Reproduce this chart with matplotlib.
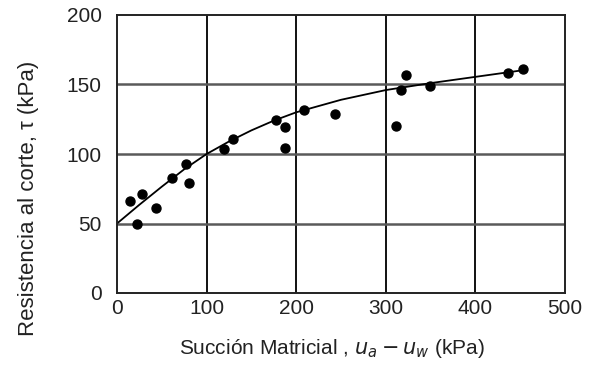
import numpy as np
import matplotlib.pyplot as plt

plt.rcParams['font.family'] = ['Liberation Sans', 'DejaVu Sans']

# measured points: matric suction (kPa) vs shear strength (kPa)
suction = [14.5, 22, 28, 44, 61, 77, 80, 119, 130, 178, 188, 187, 209, 243,
           311, 317, 322.5, 349, 436, 453]
shear = [66.5, 49.5, 71, 61, 83, 93, 79, 103.5, 110.5, 124.5, 119.5, 104.5,
         131.5, 129, 120, 146, 157, 149, 158, 161.5]

# fitted curve
curve_x = [0, 25, 50, 75, 100, 125, 150, 175, 200, 250, 300, 350, 400, 450]
curve_y = [50, 63.5, 76.5, 89, 100, 109, 117, 124, 130, 139, 146, 151, 155.5, 160]

fig = plt.figure(figsize=(5.9, 3.66), dpi=100)
ax = fig.add_axes([117/590, 1 - 293/366, 448/590, 278/366])

ax.set_xlim(0, 500)
ax.set_ylim(0, 200)

for xv in [100, 200, 300, 400]:
    ax.axvline(xv, color='#111111', lw=1.4, zorder=1)
for yv in [50, 100, 150]:
    ax.axhline(yv, color='#5a5a5a', lw=1.8, zorder=1)

ax.plot(curve_x, curve_y, color='black', lw=1.3, zorder=2)
ax.scatter(suction, shear, s=42, color='black', zorder=3, clip_on=False)

ax.set_xticks([0, 100, 200, 300, 400, 500])
ax.set_yticks([0, 50, 100, 150, 200])
ax.tick_params(length=0, labelsize=15, colors='#222222')
ax.tick_params(axis='y', pad=11)
ax.tick_params(axis='x', pad=4)
for sp in ax.spines.values():
    sp.set_color('#222222')
    sp.set_linewidth(1.4)

ax.set_xlabel('Succión Matricial , $u_a - u_w$ (kPa)', fontsize=15,
              color='#222222')
ax.set_ylabel('Resistencia al corte, τ (kPa)', fontsize=16,
              color='#222222')
ax.xaxis.set_label_coords(0.48, -0.16)
ax.yaxis.set_label_coords(-0.175, 0.342)

fig.savefig('out.png', dpi=100)
